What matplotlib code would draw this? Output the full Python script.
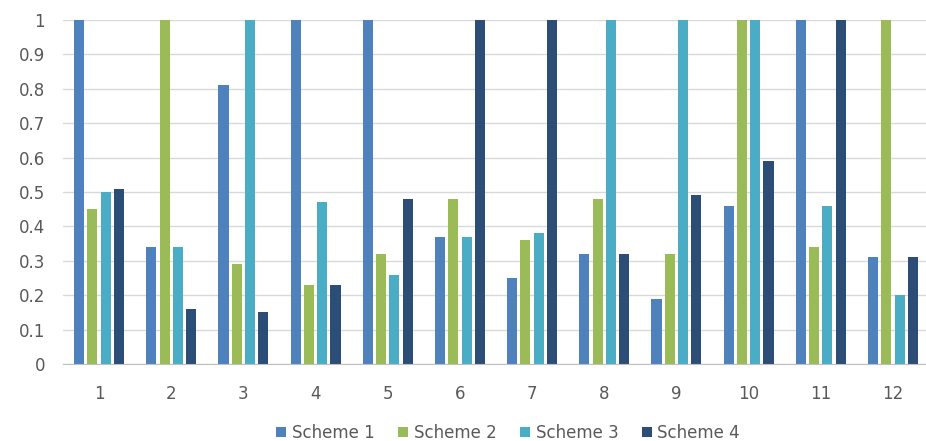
import numpy as np
import matplotlib
matplotlib.use('Agg')
import matplotlib.pyplot as plt
from matplotlib.patches import Patch

categories = ['1', '2', '3', '4', '5', '6', '7', '8', '9', '10', '11', '12']
scheme1 = [1.0, 0.34, 0.81, 1.0, 1.0, 0.37, 0.25, 0.32, 0.19, 0.46, 1.0, 0.31]
scheme2 = [0.45, 1.0, 0.29, 0.23, 0.32, 0.48, 0.36, 0.48, 0.32, 1.0, 0.34, 1.0]
scheme3 = [0.50, 0.34, 1.0, 0.47, 0.26, 0.37, 0.38, 1.0, 1.0, 1.0, 0.46, 0.20]
scheme4 = [0.51, 0.16, 0.15, 0.23, 0.48, 1.0, 1.0, 0.32, 0.49, 0.59, 1.0, 0.31]
series_names = ['Scheme 1', 'Scheme 2', 'Scheme 3', 'Scheme 4']
yticks = [0, 0.1, 0.2, 0.3, 0.4, 0.5, 0.6, 0.7, 0.8, 0.9, 1]
ytick_labels = ['0', '0.1', '0.2', '0.3', '0.4', '0.5', '0.6', '0.7', '0.8', '0.9', '1']

colors = ['#4f81bd', '#9bbb59', '#4bacc6', '#2c4d75']
txtclr = '#595959'

fig = plt.figure(figsize=(9.26, 4.41), dpi=100)
ax = fig.add_axes([63/926, 1-364/441, (929-63)/926, (364-20)/441])

x = np.arange(1, len(categories)+1)
pitch = 0.184
width = 0.14
for i, vals in enumerate([scheme1, scheme2, scheme3, scheme4]):
    ax.bar(x + (i-1.5)*pitch, vals, width, color=colors[i], zorder=3, clip_on=False)

ax.set_xlim(0.5, 12.5)
ax.set_ylim(0, 1)
ax.set_yticks(yticks)
ax.set_yticklabels(ytick_labels)
ax.set_xticks(x)
ax.set_xticklabels(categories)
ax.yaxis.grid(True, color='#d9d9d9', linewidth=1, zorder=0)
ax.set_axisbelow(True)
for s in ['top', 'right', 'left']:
    ax.spines[s].set_visible(False)
ax.spines['bottom'].set_color('#bfbfbf')
ax.spines['bottom'].set_zorder(4)
ax.tick_params('y', length=0, pad=13, labelsize=12, labelcolor=txtclr)
ax.tick_params('x', length=0, pad=15, labelsize=12, labelcolor=txtclr)

handles = [Patch(facecolor=c, label=n) for c, n in zip(colors, series_names)]
fig.legend(handles=handles, loc='center', bbox_to_anchor=(508/926, 1-433/441), ncol=4,
           frameon=False, fontsize=12, handlelength=0.6, handleheight=0.6,
           handletextpad=0.35, columnspacing=1.4, labelcolor=txtclr)

plt.savefig('out.png', dpi=100)
